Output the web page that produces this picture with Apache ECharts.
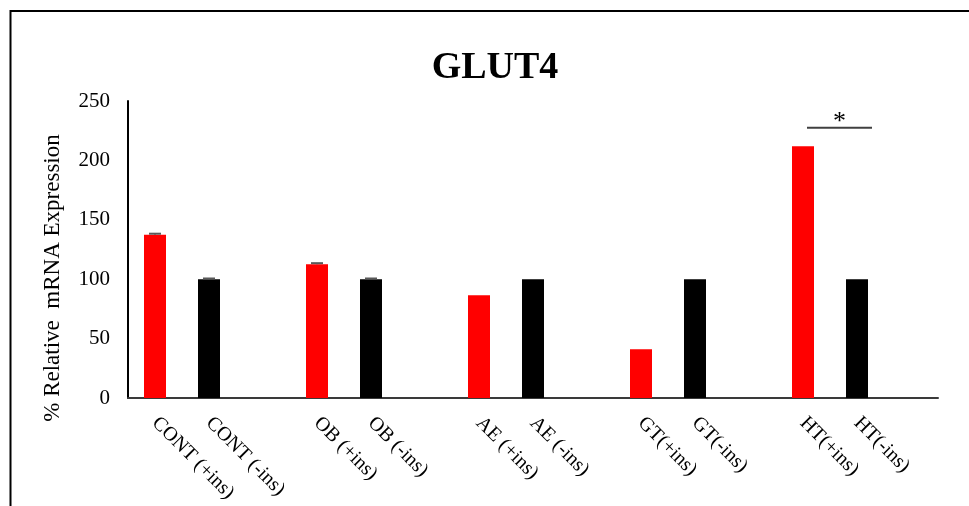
<!DOCTYPE html>
<html>
<head>
<meta charset="utf-8">
<script src="https://cdn.jsdelivr.net/npm/echarts@6/dist/echarts.min.js"></script>
<style>
  html, body { margin: 0; padding: 0; background: #ffffff; }
  #chart { width: 969px; height: 506px; }
</style>
</head>
<body>
<div id="chart"></div>
<script>
// Category slots (blank slots separate the groups)
const categories = ['CONT (+ins)', 'CONT (-ins)', '', 'OB (+ins)', 'OB (-ins)', '',
  'AE (+ins)', 'AE (-ins)', '', 'GT(+ins)', 'GT(-ins)', '', 'HT(+ins)', 'HT(-ins)', ''];

// % relative GLUT4 mRNA expression, with insulin (red) and without (black)
const plusIns  = [137.5, null, null, 112.5, null, null, 86.5, null, null, 41, null, null, 212, null, null];
const minusIns = [null, 100, null, null, 100, null, null, 100, null, null, 100, null, null, 100, null];

// Error (upper) for each bar, where shown
const plusErr  = [0.8, null, null, 1.0, null, null, null, null, null, null, null, null, null, null, null];
const minusErr = [null, 0.6, null, null, 0.6, null, null, null, null, null, null, null, null, null, null];

// Significance bracket between HT(+ins) and HT(-ins)
const sigPair = [12, 13];
const sigLevel = 227.5;
const sigMark = '*';

const yTicks = { min: 0, max: 250, interval: 50 };
const yTitle = '% Relative  mRNA Expression';

const FONT = "'Liberation Serif', 'Times New Roman', serif";

const chart = echarts.init(document.getElementById('chart'), null, { renderer: 'canvas' });

function errData(values, errs) {
  const out = [];
  values.forEach((v, i) => {
    if (v != null && errs[i] != null) out.push([i, v, v + errs[i]]);
  });
  return out;
}

function renderErr(params, api) {
  const i = api.value(0);
  const base = api.coord([i, api.value(1)]);
  const top = api.coord([i, api.value(2)]);
  const half = 6;
  return {
    type: 'group',
    children: [
      { type: 'line', shape: { x1: base[0], y1: base[1], x2: top[0], y2: top[1] },
        style: { stroke: '#595959', lineWidth: 1.5 } },
      { type: 'line', shape: { x1: top[0] - half, y1: top[1], x2: top[0] + half, y2: top[1] },
        style: { stroke: '#595959', lineWidth: 2 } }
    ]
  };
}

const option = {
  backgroundColor: '#ffffff',
  animation: false,
  title: {
    text: 'GLUT4',
    left: 490,
    top: 44,
    textAlign: 'center',
    textStyle: { fontFamily: FONT, fontSize: 38, fontWeight: 'bold', color: '#000000' }
  },
  graphic: [
    {
      type: 'rect',
      shape: { x: 10.5, y: 11, width: 1000, height: 600 },
      style: { fill: 'none', stroke: '#000000', lineWidth: 2 },
      silent: true
    },
    {
      // vertical axis title
      type: 'text',
      x: 53,
      y: 278,
      rotation: Math.PI / 2,
      style: {
        text: yTitle,
        font: '23px ' + FONT,
        fill: '#000000',
        align: 'center',
        verticalAlign: 'middle'
      },
      silent: true
    }
  ],
  grid: { left: 128, right: 31, top: 101, bottom: 108, containLabel: false },
  xAxis: {
    type: 'category',
    data: categories,
    axisLine: { show: true, lineStyle: { color: '#3a3a3a', width: 2 } },
    axisTick: { show: false },
    axisLabel: {
      interval: 0,
      rotate: -45,
      margin: 22,
      fontFamily: FONT,
      fontSize: 20,
      color: '#000000'
    }
  },
  yAxis: {
    type: 'value',
    min: yTicks.min,
    max: yTicks.max,
    interval: yTicks.interval,
    axisLine: { show: true, lineStyle: { color: '#000000', width: 2 } },
    axisTick: { show: false },
    splitLine: { show: false },
    axisLabel: { fontFamily: FONT, fontSize: 21, color: '#000000', margin: 18 }
  },
  series: [
    {
      name: '+ins',
      type: 'bar',
      data: plusIns,
      barWidth: 22,
      barGap: '-100%',
      itemStyle: { color: '#ff0000' }
    },
    {
      name: '-ins',
      type: 'bar',
      data: minusIns,
      barWidth: 22,
      barGap: '-100%',
      itemStyle: { color: '#000000' }
    },
    {
      name: 'err+',
      type: 'custom',
      renderItem: renderErr,
      data: errData(plusIns, plusErr),
      z: 5
    },
    {
      name: 'err-',
      type: 'custom',
      renderItem: renderErr,
      data: errData(minusIns, minusErr),
      z: 5
    },
    {
      name: 'sig',
      type: 'custom',
      data: [[sigPair[0], sigPair[1], sigLevel]],
      z: 6,
      renderItem: function (params, api) {
        const a = api.coord([api.value(0), api.value(2)]);
        const b = api.coord([api.value(1), api.value(2)]);
        const x1 = a[0] + 4;
        const x2 = b[0] + 15;
        const y = a[1];
        return {
          type: 'group',
          children: [
            { type: 'line', shape: { x1: x1, y1: y, x2: x2, y2: y },
              style: { stroke: '#404040', lineWidth: 2 } },
            { type: 'text',
              style: { text: sigMark, x: (x1 + x2) / 2, y: y - 6, align: 'center',
                verticalAlign: 'middle', font: '26px ' + FONT, fill: '#000000' } }
          ]
        };
      }
    }
  ]
};

chart.setOption(option);
</script>
</body>
</html>
